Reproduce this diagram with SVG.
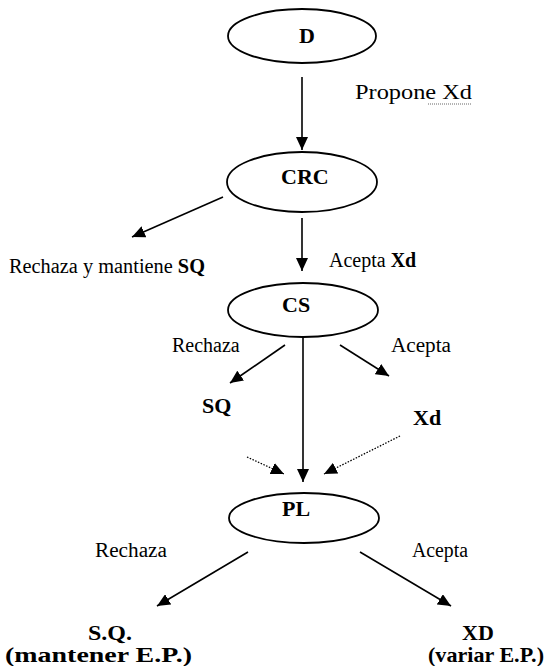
<svg xmlns="http://www.w3.org/2000/svg" width="545" height="666" viewBox="0 0 545 666">
<style>
.node ellipse{fill:#fff;stroke:#000;stroke-width:1.8}
.nl{font-family:"Liberation Serif",serif;font-weight:bold;font-size:22px;fill:#000}
.lb{font-family:"Liberation Serif",serif;font-size:20px;fill:#000}
.bd{font-family:"Liberation Serif",serif;font-weight:bold;fill:#000}
.c line{stroke:#000;stroke-width:1.6;fill:none}
.c .dot{stroke-dasharray:1.5 1.5;stroke-width:1.3}
</style>
<defs>
<marker id="ah" markerUnits="userSpaceOnUse" markerWidth="14" markerHeight="12" refX="13" refY="6" orient="auto">
<path d="M0,0 L13,6 L0,12 Z" fill="#000"/>
</marker>
</defs>
<rect width="545" height="666" fill="#fff"/>
<g id="connectors" class="c">
<line x1="302" y1="77" x2="302" y2="150" marker-end="url(#ah)"/>
<line x1="302" y1="218" x2="302" y2="271" marker-end="url(#ah)"/>
<line x1="223" y1="197" x2="132" y2="237" marker-end="url(#ah)"/>
<line x1="285" y1="345" x2="230" y2="383" marker-end="url(#ah)"/>
<line x1="340" y1="345" x2="389" y2="376" marker-end="url(#ah)"/>
<line x1="303" y1="337" x2="303" y2="482" marker-end="url(#ah)"/>
<line class="dot" x1="247" y1="457" x2="284" y2="474" marker-end="url(#ah)"/>
<line class="dot" x1="400" y1="436" x2="324" y2="474" marker-end="url(#ah)"/>
<line x1="248" y1="552" x2="157" y2="606" marker-end="url(#ah)"/>
<line x1="360" y1="552" x2="451" y2="606" marker-end="url(#ah)"/>
</g>
<g id="node-D" class="node">
<ellipse cx="302" cy="36" rx="74" ry="27"/>
<text class="nl" x="299" y="43" font-size="21">D</text>
</g>
<g id="node-CRC" class="node">
<ellipse cx="302" cy="182" rx="75" ry="30"/>
<text class="nl" x="281" y="184">CRC</text>
</g>
<g id="node-CS" class="node">
<ellipse cx="303" cy="310" rx="75" ry="27"/>
<text class="nl" x="282" y="312">CS</text>
</g>
<g id="node-PL" class="node">
<ellipse cx="304" cy="518" rx="75" ry="25"/>
<text class="nl" x="282" y="516">PL</text>
</g>
<g id="labels">
<text class="lb" x="355" y="99" font-size="22" textLength="117" lengthAdjust="spacingAndGlyphs">Propone Xd</text>
<line x1="428" y1="104" x2="472" y2="104" stroke="#666" stroke-width="1" stroke-dasharray="1 1"/>
<text class="lb" x="9" y="273" textLength="196" lengthAdjust="spacingAndGlyphs">Rechaza y mantiene <tspan font-weight="bold">SQ</tspan></text>
<text class="lb" x="329" y="267" font-size="19">Acepta <tspan font-weight="bold">Xd</tspan></text>
<text class="lb" x="172" y="352">Rechaza</text>
<text class="lb" x="391" y="352" textLength="60" lengthAdjust="spacingAndGlyphs">Acepta</text>
<text class="bd" x="202" y="413" font-size="22">SQ</text>
<text class="bd" x="413" y="425" font-size="22">Xd</text>
<text class="lb" x="95" y="557" textLength="72" lengthAdjust="spacingAndGlyphs">Rechaza</text>
<text class="lb" x="412" y="557" textLength="56" lengthAdjust="spacingAndGlyphs">Acepta</text>
<text class="bd" x="88" y="640" font-size="22" textLength="44" lengthAdjust="spacingAndGlyphs">S.Q.</text>
<text class="bd" x="5" y="662" font-size="21" textLength="187" lengthAdjust="spacingAndGlyphs">(mantener  E.P.)</text>
<text class="bd" x="462" y="640" font-size="22">XD</text>
<text class="bd" x="428" y="662" font-size="21" textLength="116" lengthAdjust="spacingAndGlyphs">(variar  E.P.)</text>
</g>
</svg>
